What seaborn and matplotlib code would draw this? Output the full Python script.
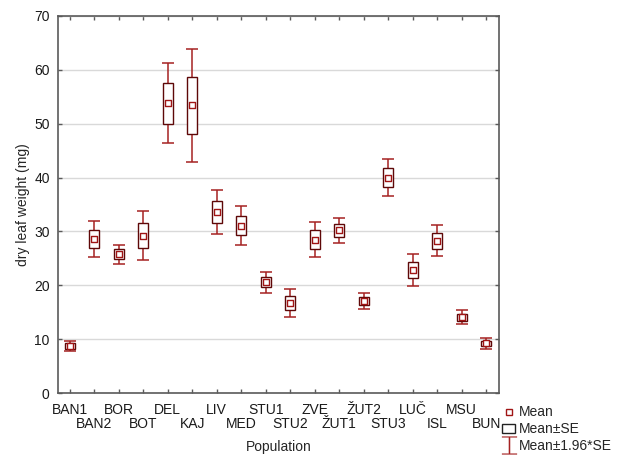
import numpy as np
import pandas as pd
import matplotlib
matplotlib.use("Agg")
import matplotlib.pyplot as plt
import seaborn as sns
from matplotlib.lines import Line2D
from matplotlib.patches import Patch

# Population means and standard errors
populations = ["BAN1", "BAN2", "BOR", "BOT", "DEL", "KAJ", "LIV", "MED", "STU1",
               "STU2", "ZVE", "ŽUT1", "ŽUT2", "STU3", "LUČ", "ISL", "MSU", "BUN"]
means = [8.7, 28.6, 25.8, 29.2, 53.8, 53.4, 33.6, 31.1, 20.6,
         16.7, 28.5, 30.2, 17.1, 40.0, 22.8, 28.3, 14.1, 9.2]
se = [0.5, 1.75, 0.9, 2.3, 3.8, 5.35, 2.1, 1.85, 1.0,
      1.35, 1.7, 1.2, 0.75, 1.75, 1.5, 1.5, 0.65, 0.5]

df = pd.DataFrame({"Population": populations, "Mean": means, "SE": se})
df["ci"] = 1.96 * df["SE"]

sns.set_theme(style="white")
plt.rcParams["font.family"] = ["Liberation Sans", "DejaVu Sans"]

box_col = "#5e0808"
whisk_col = "#a52222"
mark_col = "#a01515"
fs = 10

fig = plt.figure(figsize=(6.17, 4.57), dpi=100)
ax = fig.add_axes([0.094, 0.140, 0.715, 0.825])

xpos = np.arange(len(df))

# whiskers: mean +/- 1.96*SE
ax.errorbar(xpos, df["Mean"], yerr=df["ci"], fmt="none", ecolor=whisk_col,
            elinewidth=1.1, capsize=4.5, capthick=1.1, zorder=2)

# boxes: mean +/- SE
ax.bar(xpos, 2 * df["SE"], bottom=df["Mean"] - df["SE"], width=0.4,
       facecolor="white", edgecolor=box_col, linewidth=1.0, zorder=3)

# mean markers
sns.scatterplot(data=df, x="Population", y="Mean", marker="s", s=18,
                facecolor="white", edgecolor=mark_col, linewidth=1.0,
                zorder=4, ax=ax, legend=False)

ax.set_xlim(-0.48, len(df) - 0.47)
ax.set_ylim(0, 70)
ax.set_yticks(range(0, 71, 10))
ax.set_xticks(xpos)
ax.set_xticklabels(populations)

ax.yaxis.grid(True, color="#d9d9d9", linewidth=1)
ax.set_axisbelow(True)
for sp in ax.spines.values():
    sp.set_visible(True)
    sp.set_color("#5a5a5a")
    sp.set_linewidth(1.2)
ax.tick_params(axis="both", which="both", direction="in", length=3, width=1,
               color="#5a5a5a", labelsize=fs, labelcolor="#1a1a1a",
               top=True, right=True, bottom=True, left=True)
ax.tick_params(axis="y", pad=6)

# alternate the category labels on two rows
for i, tick in enumerate(ax.xaxis.get_major_ticks()):
    tick.set_pad(7 if i % 2 == 0 else 17)

ax.set_xlabel("Population", fontsize=fs, labelpad=7)
ax.set_ylabel("dry leaf weight (mg)", fontsize=fs, labelpad=3)

handles = [
    Line2D([], [], marker="s", linestyle="none", markersize=5,
           markerfacecolor="white", markeredgecolor=mark_col, markeredgewidth=1.0),
    Patch(facecolor="white", edgecolor="#222222", linewidth=1.0),
    Line2D([], [], marker="$\u2336$", linestyle="none", markersize=13,
           color=whisk_col, markeredgewidth=0.1),
]
labels = ["Mean", "Mean±SE", "Mean±1.96*SE"]
fig.legend(handles, labels, loc="upper left", bbox_to_anchor=(0.803, 0.128),
           frameon=False, fontsize=fs, handlelength=0.9, handletextpad=0.3,
           labelspacing=0.2, borderpad=0)

fig.savefig("out.png", dpi=100)
